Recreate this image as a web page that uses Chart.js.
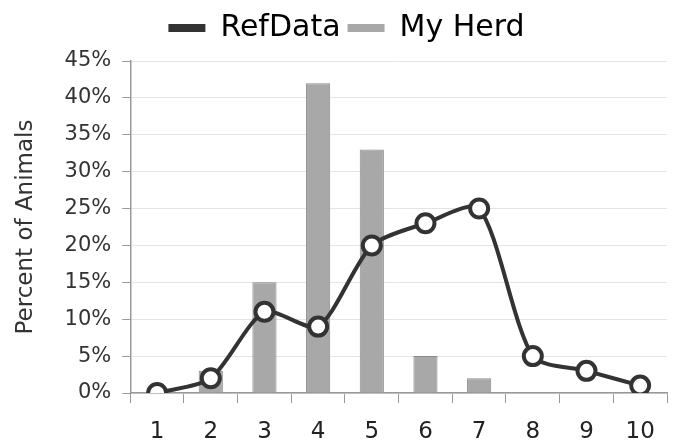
<!DOCTYPE html>
<html lang="en">
<head>
    <meta charset="UTF-8">
    <title>Percent of Animals</title>
    <style>
        body { margin: 0; background: #fff; }
        #wrap { width: 680px; height: 443px; }
    </style>
</head>
<body>
    <div id="wrap"><canvas id="chart" width="680" height="443"></canvas></div>

    <script src="https://cdn.jsdelivr.net/npm/chart.js"></script>
    <script>
        // data
        const categories = ['1', '2', '3', '4', '5', '6', '7', '8', '9', '10'];
        const refData = [0, 2, 11, 9, 20, 23, 25, 5, 3, 1];
        const myHerd = [0, 3, 15, 42, 33, 5, 2, 0, 0, 0];
        const yTicks = [0, 5, 10, 15, 20, 25, 30, 35, 40, 45];

        // a bit more room under the legend, and nudge it right
        const legendGap = {
            id: 'legendGap',
            beforeInit(chart) {
                const fit = chart.legend.fit;
                chart.legend.fit = function () {
                    fit.bind(chart.legend)();
                    this.height += 8;
                };
            },
            afterLayout(chart) {
                chart.legend.left += 6;
                chart.legend.right += 6;
            }
        };

        const ctx = document.getElementById('chart').getContext('2d');
        new Chart(ctx, {
            type: 'bar',
            data: {
                labels: categories,
                datasets: [{
                    type: 'line',
                    label: 'RefData',
                    data: refData,
                    borderColor: '#333',
                    backgroundColor: '#333',
                    borderWidth: 4,
                    tension: 0.25,
                    pointRadius: 9,
                    pointBorderWidth: 4,
                    pointBackgroundColor: '#fff',
                    pointBorderColor: '#333',
                    clip: 0,
                    order: 0
                }, {
                    label: 'My Herd',
                    data: myHerd,
                    backgroundColor: '#a8a8a8',
                    borderColor: '#8a8a8a',
                    borderWidth: 1,
                    categoryPercentage: 1,
                    barPercentage: 0.45,
                    order: 1
                }]
            },
            options: {
                responsive: false,
                animation: false,
                layout: { padding: { top: 6, right: 11, bottom: 0, left: 12 } },
                plugins: {
                    legend: {
                        position: 'top',
                        labels: {
                            font: { family: 'DejaVu Sans', size: 30 },
                            color: '#333',
                            boxWidth: 37,
                            boxHeight: 8,
                            padding: 7,
                            generateLabels: function (chart) {
                                return chart.data.datasets.map(function (ds, i) {
                                    return {
                                        text: ds.label,
                                        fillStyle: i === 0 ? '#333' : '#a8a8a8',
                                        strokeStyle: i === 0 ? '#333' : '#a8a8a8',
                                        lineWidth: 0,
                                        datasetIndex: i
                                    };
                                });
                            }
                        }
                    },
                    tooltip: { enabled: false }
                },
                scales: {
                    x: {
                        afterFit: function (scale) { scale.height = 50; },
                        grid: {
                            drawOnChartArea: false,
                            tickLength: 10,
                            color: '#999'
                        },
                        border: { color: '#999', width: 1.5 },
                        ticks: {
                            font: { family: 'DejaVu Sans', size: 23, lineHeight: 1 },
                            color: '#222',
                            padding: 18
                        }
                    },
                    y: {
                        min: 0,
                        max: 45,
                        afterBuildTicks: function (axis) {
                            axis.ticks = yTicks.map(function (v) { return { value: v }; });
                        },
                        grid: {
                            color: '#e4e4e4',
                            tickLength: 8,
                            tickColor: '#999'
                        },
                        border: { color: '#999', width: 1.5 },
                        ticks: {
                            font: { family: 'DejaVu Sans', size: 21 },
                            color: '#333',
                            padding: 11,
                            callback: function (v) { return v + '%'; }
                        },
                        title: {
                            display: true,
                            text: 'Percent of Animals',
                            font: { family: 'DejaVu Sans', size: 23 },
                            color: '#333',
                            padding: { top: 0, bottom: 14 }
                        }
                    }
                }
            },
            plugins: [legendGap]
        });
    </script>
</body>
</html>
